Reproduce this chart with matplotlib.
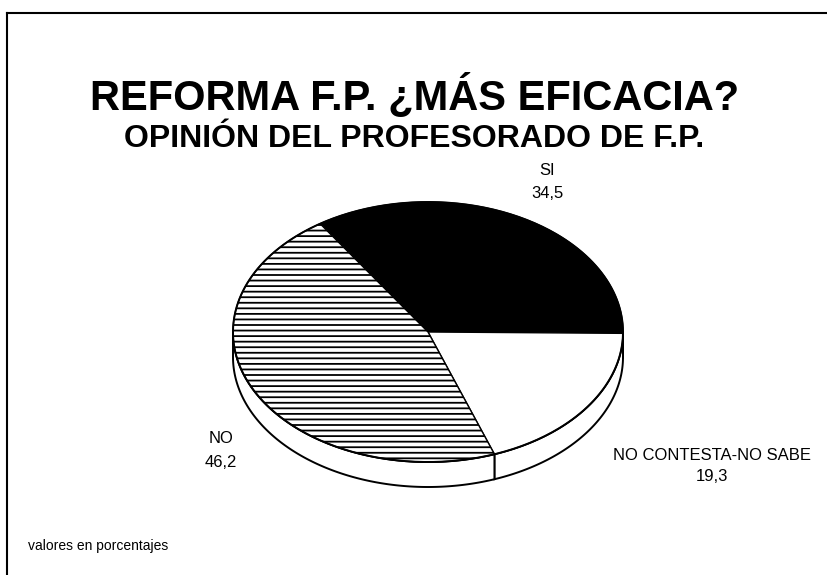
import numpy as np
import matplotlib.pyplot as plt
from matplotlib.patches import Polygon

plt.rcParams['font.family'] = ['Liberation Sans', 'DejaVu Sans']
plt.rcParams['hatch.linewidth'] = 1.3

# Datos de la encuesta (porcentajes), en sentido horario desde la parte superior
categorias = ['SI', 'NO CONTESTA-NO SABE', 'NO']
valores = [34.5, 19.3, 46.2]
textos_valor = ['34,5', '19,3', '46,2']

# estilo de cada porción
colores = ['black', 'white', 'white']
tramas = [None, None, '---']

# geometría de la tarta en perspectiva (en píxeles)
cx, cy, a, b, grosor = 428, 332, 195, 130, 25
angulo_inicio = 123.6

# posición de las etiquetas: x, línea base del nombre, línea base del valor
pos_etiquetas = [(547, 175, 198), (712, 460, 481), (221, 443, 467)]


def arco(t1, t2, n=200):
    t = np.radians(np.linspace(t1, t2, n))
    return np.column_stack([cx + a * np.cos(t), cy - b * np.sin(t)])


fig = plt.figure(figsize=(8.28, 5.75), dpi=100)
ax = fig.add_axes([0, 0, 1, 1])
ax.set_xlim(0, 828)
ax.set_ylim(575, 0)
ax.axis('off')

total = sum(valores)
limites = []
t = angulo_inicio
for v in valores:
    t2 = t - v / total * 360
    limites.append((t, t2))
    t = t2

# pared lateral (solo la mitad delantera es visible)
for (t1, t2) in limites:
    for base in (0, -360):
        lo = max(t2, base - 180)
        hi = min(t1, base)
        if hi - lo <= 0.01:
            continue
        sup = arco(lo, hi)
        inf = sup + np.array([0, grosor])
        ax.add_patch(Polygon(np.vstack([sup, inf[::-1]]), closed=True,
                             fc='white', ec='black', lw=1.4, zorder=1))

# cara superior
for (t1, t2), col, tr in zip(limites, colores, tramas):
    pts = np.vstack([[cx, cy], arco(t1, t2)])
    ax.add_patch(Polygon(pts, closed=True, fc=col, ec='black', hatch=tr,
                         lw=1.0, zorder=2))
borde = arco(0, 360, 400)
ax.plot(borde[:, 0], borde[:, 1], color='black', lw=1.4, zorder=3)

# etiquetas
for cat, txt, (x, y1, y2) in zip(categorias, textos_valor, pos_etiquetas):
    ax.text(x, y1, cat, ha='center', va='baseline', fontsize=12)
    ax.text(x, y2, txt, ha='center', va='baseline', fontsize=12)

# títulos
ax.text(415, 110, 'REFORMA F.P. ¿MÁS EFICACIA?', ha='center', va='baseline',
        fontsize=30, fontweight='bold')
ax.text(414, 147, 'OPINIÓN DEL PROFESORADO DE F.P.', ha='center', va='baseline',
        fontsize=23, fontweight='bold')
ax.text(28, 550, 'valores en porcentajes', ha='left', va='baseline', fontsize=10)

# marco
ax.plot([7, 828], [13, 13], color='black', lw=1.5)
ax.plot([7, 7], [13, 575], color='black', lw=1.5)

fig.savefig('out.png', dpi=100)
